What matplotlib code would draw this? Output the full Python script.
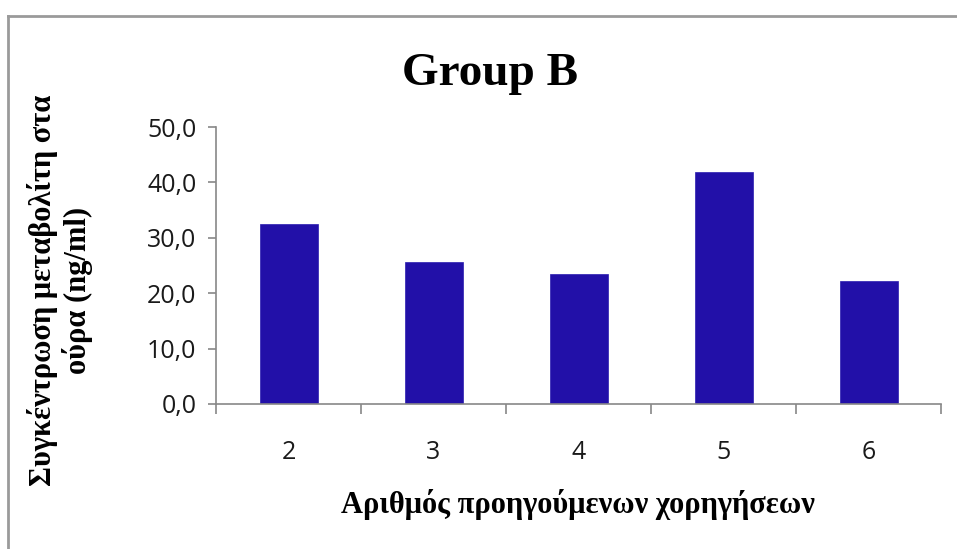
import matplotlib.pyplot as plt
from matplotlib.lines import Line2D
from matplotlib.ticker import FuncFormatter, FixedLocator

# number of previous administrations vs urine metabolite concentration
doses = ['2', '3', '4', '5', '6']
concentration = [32.5, 25.6, 23.5, 41.8, 22.2]

title = 'Group B'
xlabel = 'Αριθμός προηγούμενων χορηγήσεων'
ylabel = 'Συγκέντρωση μεταβολίτη στα\nούρα (ng/ml)'

W, H = 957, 549
fig = plt.figure(figsize=(W / 100, H / 100), dpi=100)

def fx(px):
    return px / W

def fy(py):
    return 1 - py / H

# outer frame of the chart area (only left and top edges are in view)
frame = '#9a9a9a'
fig.add_artist(Line2D([fx(8), fx(8)], [fy(16), 0], color=frame, lw=2))
fig.add_artist(Line2D([fx(8), 1], [fy(16), fy(16)], color=frame, lw=2))

ax = fig.add_axes([fx(216), fy(404), fx(941) - fx(216), (404 - 127) / H])
x = range(len(doses))
ax.bar(x, concentration, width=0.4, color='#2210a8', edgecolor='#2a1cb0', lw=0.5)

ax.set_xlim(-0.5, len(doses) - 0.5)
ax.set_ylim(0, 50)
ax.set_yticks(range(0, 51, 10))
ax.yaxis.set_major_formatter(FuncFormatter(lambda v, _: f'{v:.1f}'.replace('.', ',')))

# category labels centred, tick marks on the boundaries between them
ax.set_xticks(list(x))
ax.set_xticklabels(doses)
ax.xaxis.set_minor_locator(FixedLocator([i - 0.5 for i in range(len(doses) + 1)]))
ax.tick_params(axis='x', which='major', length=0, pad=26)
ax.tick_params(axis='x', which='minor', length=7, color='#888888', width=1.2)
ax.tick_params(axis='y', length=6, color='#888888', width=1.2, pad=8)

for lab in ax.get_xticklabels() + ax.get_yticklabels():
    lab.set_family('Open Sans')
    lab.set_fontsize(18)
    lab.set_color('#1a1a1a')

for s in ('top', 'right'):
    ax.spines[s].set_visible(False)
for s in ('left', 'bottom'):
    ax.spines[s].set_color('#888888')
    ax.spines[s].set_linewidth(1.2)

serif = 'Liberation Serif'
fig.text(fx(490), fy(85), title, ha='center', va='baseline',
         family=serif, weight='bold', fontsize=34)
fig.text(fx(578), fy(505), xlabel, ha='center', va='center',
         family=serif, weight='bold', fontsize=22)
fig.text(fx(60), fy(290), ylabel, ha='center', va='center', rotation=90,
         family=serif, weight='bold', fontsize=22, linespacing=1.15)

fig.savefig('out.png', dpi=100)
